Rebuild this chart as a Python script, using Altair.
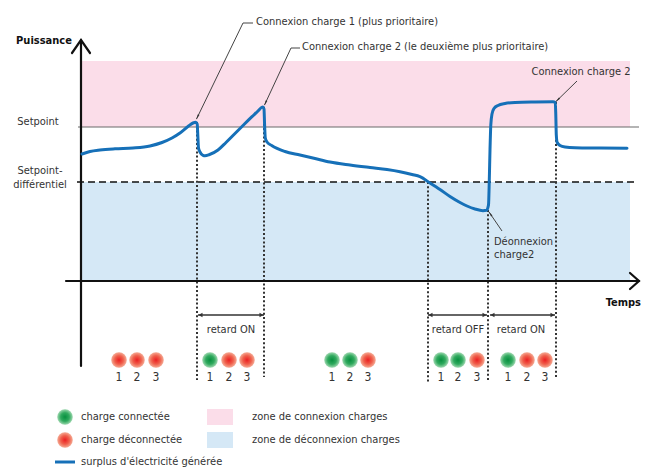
import math
import pandas as pd
import altair as alt

W, H = 633, 459
FONT = "Liberation Sans Narrow, DejaVu Sans Condensed, Roboto Condensed, Roboto, sans-serif"
FS = 11
TXT = "#333333"
PINK = "#fbdde9"
LBLUE = "#d5e8f6"
CURVE = "#1670b8"

# ---- diagram data (reference picture coordinates: x = time, y = power, downwards) ----
curve_x = [82, 90, 100, 115, 133, 150, 162, 172, 180, 188, 193, 195.7, 197.2, 197.8, 198.5, 200, 203, 205,
           209, 218, 226, 235, 244, 252, 258, 261.5, 263, 264, 264.6, 265.3, 267, 271.7, 285, 300, 315, 330,
           350, 370, 387, 400, 412, 420, 430, 440, 450, 460, 467, 475, 483, 486.5, 488.5, 489.3, 490, 490.8,
           492, 494, 498, 505, 515, 535, 553, 555.3, 555.8, 556.3, 557.2, 560, 565, 575, 600, 627]
curve_y = [154, 151.5, 150, 148.8, 148, 146, 142.5, 138, 133, 126.5, 123, 122.3, 124, 135, 148, 152, 155.3, 155.7,
           154.8, 150, 142.5, 133.5, 124.5, 116.7, 111, 107.5, 107, 109, 125, 138, 142, 145.5, 151.5, 155, 158.5, 162,
           165, 167.5, 169.5, 171.7, 174.5, 176.7, 183, 189.5, 196.5, 202.5, 206, 209, 210.7, 210.3, 205, 180, 150, 125,
           114, 108.5, 105.5, 103.5, 102.5, 102, 101.8, 102.5, 115, 135, 142.5, 145.5, 147, 147.7, 148, 148.3]

leg_rows = [417, 440, 462]

zone_x = [82, 82, 207, 207]
zone_x2 = [630, 630, 233, 233]
zone_y = [61, 182, leg_rows[0] - 8, leg_rows[1] - 8]
zone_y2 = [127, 280, leg_rows[0] + 8, leg_rows[1] + 8]
zone_c = [PINK, LBLUE, PINK, LBLUE]

setpoint_level = 127
diff_level = 182

dotted_x = [197, 264, 428, 488, 556]
dotted_top = [122, 107, 182, 210, 102]
dotted_bot = [380, 377, 382, 382, 378]

delay_start = [198, 428, 490]
delay_end = [264, 487, 555]
delay_y = 315
delay_label = ["retard ON", "retard OFF", "retard ON"]
delay_label_x = [231, 458, 521]

circle_x = [119, 137, 156, 210, 229, 247, 332, 350, 368, 441, 458, 477, 508, 527, 545]
circle_state = ["off", "off", "off", "on", "off", "off", "on", "on", "off", "on", "on", "off", "on", "off", "off"]
circle_num = ["1", "2", "3"] * 5
circle_y = 360
num_y = 377

# leader lines (polyline points, last point = arrow tip)
leader_pts = [
    [(253, 23), (243, 23), (196.5, 119)],
    [(300, 48), (291, 48), (264.5, 105)],
    [(577, 81), (556, 101.5)],
    [(502, 231), (489, 212)],
]

# axes polylines
axis_pts = [
    [(81, 366), (81, 40)],
    [(72, 53), (81, 40), (90, 53)],
    [(66, 281), (639, 281)],
    [(630, 273), (639, 281), (630, 289)],
    [(55, leg_rows[2]), (75, leg_rows[2])],
]

left_texts = [
    (256, 22, "Connexion charge 1 (plus prioritaire)"),
    (302, 47, "Connexion charge 2 (le deuxième plus prioritaire)"),
    (494, 242, "Déonnexion"),
    (494, 255, "charge2"),
    (81, leg_rows[0], "charge connectée"),
    (81, leg_rows[1], "charge déconnectée"),
    (81, leg_rows[2], "surplus d'électricité générée"),
    (252, leg_rows[0], "zone de connexion charges"),
    (252, leg_rows[1], "zone de déconnexion charges"),
]
center_texts = [
    (38, 122, "Setpoint"),
    (40, 171, "Setpoint-"),
    (40, 185, "différentiel"),
    (581, 72, "Connexion charge 2"),
]
bold_center = [(44, 41, "Puissance")]
bold_right = [(641, 303, "Temps")]

legend_circle_x = [65, 65]
legend_circle_y = [leg_rows[0], leg_rows[1]]
legend_circle_state = ["on", "off"]

# ---- scales / helpers ----
xs = alt.Scale(domain=[8, W + 8], nice=False, zero=False)
ys = alt.Scale(domain=[8, H + 8], nice=False, zero=False, reverse=True)


def X(f="x"):
    return alt.X(f"{f}:Q", scale=xs, axis=None)


def Y(f="y"):
    return alt.Y(f"{f}:Q", scale=ys, axis=None)


def poly_df(polys):
    rows = []
    for i, pts in enumerate(polys):
        for j, (px, py) in enumerate(pts):
            rows.append({"seg": i, "o": j, "x": px, "y": py})
    return pd.DataFrame(rows)


zones = alt.Chart(pd.DataFrame({"x": zone_x, "x2": zone_x2, "y": zone_y, "y2": zone_y2, "c": zone_c})).mark_rect().encode(
    x=X(), x2=alt.X2("x2:Q"), y=Y(), y2=alt.Y2("y2:Q"), fill=alt.Color("c:N", scale=None))

setpoint = alt.Chart(pd.DataFrame({"x": [78], "x2": [639], "y": [setpoint_level]})).mark_rule(
    color="#6b6b6b", strokeWidth=1.2).encode(x=X(), x2=alt.X2("x2:Q"), y=Y())

diffline = alt.Chart(pd.DataFrame({"x": [77], "x2": [637], "y": [diff_level]})).mark_rule(
    color="#111111", strokeWidth=1.3, strokeDash=[7, 4]).encode(x=X(), x2=alt.X2("x2:Q"), y=Y())

dotted = alt.Chart(pd.DataFrame({"x": dotted_x, "y": dotted_top, "y2": dotted_bot})).mark_rule(
    color="#333333", strokeWidth=2, strokeDash=[2, 2.2]).encode(x=X(), y=Y(), y2=alt.Y2("y2:Q"))

axes = alt.Chart(poly_df(axis_pts[:4])).mark_line(color="#111111", strokeWidth=2.2, strokeCap="round",
                                                   strokeJoin="miter").encode(
    x=X(), y=Y(), detail="seg:N", order="o:Q")

legend_line = alt.Chart(poly_df(axis_pts[4:])).mark_line(color=CURVE, strokeWidth=3).encode(
    x=X(), y=Y(), detail="seg:N", order="o:Q")

curve = alt.Chart(pd.DataFrame({"x": curve_x, "y": curve_y, "o": list(range(len(curve_x)))})).mark_line(
    color=CURVE, strokeWidth=3, interpolate="monotone", strokeCap="round").encode(
    x=X(), y=Y(), order="o:Q")

delay_rules = alt.Chart(pd.DataFrame({"x": delay_start, "x2": delay_end, "y": [delay_y] * 3})).mark_rule(
    color="#333333", strokeWidth=1.3).encode(x=X(), x2=alt.X2("x2:Q"), y=Y())
heads_l = alt.Chart(pd.DataFrame({"x": [v + 2.5 for v in delay_start], "y": [delay_y] * 3})).mark_point(
    shape="triangle-left", filled=True, size=22, color="#333333", opacity=1).encode(x=X(), y=Y())
heads_r = alt.Chart(pd.DataFrame({"x": [v - 2.5 for v in delay_end], "y": [delay_y] * 3})).mark_point(
    shape="triangle-right", filled=True, size=22, color="#333333", opacity=1).encode(x=X(), y=Y())

leaders = alt.Chart(poly_df(leader_pts)).mark_line(color="#444444", strokeWidth=1).encode(
    x=X(), y=Y(), detail="seg:N", order="o:Q")

tips = []
for pts in leader_pts:
    (ax, ay), (bx, by) = pts[-2], pts[-1]
    dx, dy = bx - ax, by - ay
    L = math.hypot(dx, dy)
    ang = math.degrees(math.atan2(dx, -dy)) % 360
    tips.append({"x": bx - 3 * dx / L, "y": by - 3 * dy / L, "a": ang})
leader_heads = alt.Chart(pd.DataFrame(tips)).mark_point(shape="wedge", filled=True, size=45, color="#333333",
                                                          opacity=1).encode(
    x=X(), y=Y(), angle=alt.Angle("a:Q", scale=None))


def grad(center, mid, edge):
    return alt.RadialGradient(gradient="radial", stops=[
        alt.GradientStop(color=center, offset=0),
        alt.GradientStop(color=mid, offset=0.55),
        alt.GradientStop(color=edge, offset=1)])


GREEN_G = grad("#089040", "#2fa95d", "#9fd8b0")
RED_G = grad("#ec1f22", "#ef5f4b", "#f5ab95")

cdf = pd.DataFrame({"x": circle_x + legend_circle_x,
                    "y": [circle_y] * len(circle_x) + legend_circle_y,
                    "s": circle_state + legend_circle_state})
green = alt.Chart(cdf[cdf.s == "on"]).mark_circle(size=240, fill=GREEN_G, opacity=1).encode(x=X(), y=Y())
red = alt.Chart(cdf[cdf.s == "off"]).mark_circle(size=240, fill=RED_G, opacity=1).encode(x=X(), y=Y())

nums = alt.Chart(pd.DataFrame({"x": circle_x, "y": [num_y] * len(circle_x), "t": circle_num})).mark_text(
    font=FONT, fontSize=12, color=TXT, align="center", baseline="middle").encode(x=X(), y=Y(), text="t:N")

delay_txt = alt.Chart(pd.DataFrame({"x": delay_label_x, "y": [330] * 3, "t": delay_label})).mark_text(
    font=FONT, fontSize=FS, color=TXT, align="center", baseline="middle").encode(x=X(), y=Y(), text="t:N")


def tdf(items):
    return pd.DataFrame({"x": [i[0] for i in items], "y": [i[1] for i in items], "t": [i[2] for i in items]})


ltxt = alt.Chart(tdf(left_texts)).mark_text(font=FONT, fontSize=FS, color=TXT, align="left",
                                            baseline="middle").encode(x=X(), y=Y(), text="t:N")
ctxt = alt.Chart(tdf(center_texts)).mark_text(font=FONT, fontSize=FS, color=TXT, align="center",
                                              baseline="middle").encode(x=X(), y=Y(), text="t:N")
btxt = alt.Chart(tdf(bold_center)).mark_text(font=FONT, fontSize=FS, color="#111111", fontWeight="bold",
                                             align="center", baseline="middle").encode(x=X(), y=Y(), text="t:N")
btxt2 = alt.Chart(tdf(bold_right)).mark_text(font=FONT, fontSize=FS, color="#111111", fontWeight="bold",
                                             align="right", baseline="middle").encode(x=X(), y=Y(), text="t:N")

chart = alt.layer(
    zones, setpoint, diffline, dotted, axes, legend_line, curve, delay_rules, heads_l, heads_r,
    leaders, leader_heads, green, red, nums, delay_txt, ltxt, ctxt, btxt, btxt2
).properties(
    width=W, height=H, padding=0, autosize=alt.AutoSizeParams(type="none"), background="white"
).configure_view(stroke=None)

chart.save("out.html", embed_options={"renderer": "svg", "actions": False})
